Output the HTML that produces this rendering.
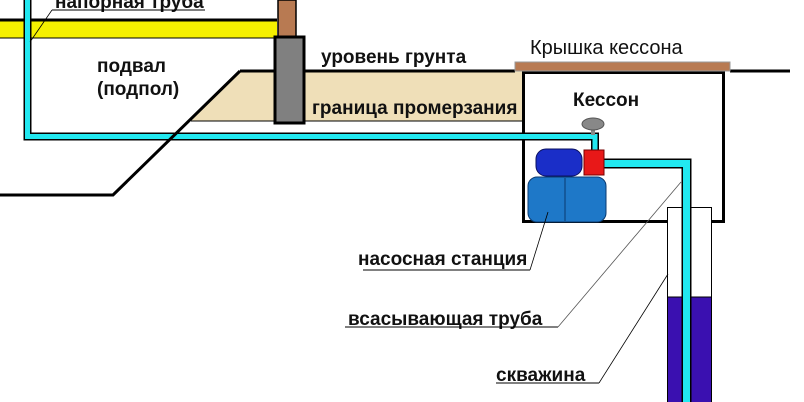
<!DOCTYPE html>
<html><head><meta charset="utf-8"><style>
html,body{margin:0;padding:0;background:#fff;}
svg{display:block;}
text{font-family:"Liberation Sans",Arial,sans-serif;font-weight:bold;font-size:19px;fill:#111;}
</style></head><body>
<svg width="804" height="402" viewBox="0 0 804 402" xmlns="http://www.w3.org/2000/svg">
<rect x="0" y="20" width="277" height="18" fill="#f5f000"/>
<line x1="0" y1="20" x2="277" y2="20" stroke="#000" stroke-width="3"/>
<line x1="0" y1="38" x2="277" y2="38" stroke="#000" stroke-width="1"/>
<rect x="278" y="0" width="18" height="37" fill="#b87a52" stroke="#000" stroke-width="1.5"/>
<polygon points="240,71 522,71 522,121 191,121" fill="#efdfb8"/>
<line x1="191" y1="121" x2="522" y2="121" stroke="#000" stroke-width="1"/>
<line x1="240" y1="71" x2="515" y2="71" stroke="#000" stroke-width="3"/>
<line x1="730" y1="71" x2="790" y2="71" stroke="#000" stroke-width="3"/>
<rect x="275" y="37" width="29" height="86" fill="#808080" stroke="#000" stroke-width="3"/>
<path d="M27.5,0 V136.5 H595 V150" fill="none" stroke="#000" stroke-width="8"/>
<path d="M27.5,0 V136.5 H595 V150" fill="none" stroke="#22e8f0" stroke-width="5"/>
<polyline points="240,71 113,195 0,195" fill="none" stroke="#000" stroke-width="3"/>
<rect x="523.5" y="72.5" width="200" height="149" fill="none" stroke="#000" stroke-width="3"/>
<rect x="515" y="62" width="215" height="9" fill="#b87a52" stroke="#999" stroke-width="1"/>
<path d="M522,136.5 H595 V150" fill="none" stroke="#000" stroke-width="8"/>
<path d="M522,136.5 H595 V152" fill="none" stroke="#22e8f0" stroke-width="5"/>
<rect x="591" y="127" width="4" height="8" fill="#888"/>
<ellipse cx="593" cy="124" rx="11" ry="6" fill="#888" stroke="#555"/>
<rect x="667.5" y="207.5" width="44" height="200" fill="#fff" stroke="#000" stroke-width="1"/>
<rect x="668" y="297" width="43" height="110" fill="#3a10b0"/>
<line x1="668" y1="297" x2="711" y2="297" stroke="#000" stroke-width="1"/>
<path d="M604,163.5 H686.5 V402" fill="none" stroke="#000" stroke-width="10"/>
<path d="M604,163.5 H686.5 V402" fill="none" stroke="#22e8f0" stroke-width="7"/>
<rect x="528" y="177" width="78" height="45" rx="9" fill="#1e78c8" stroke="#0a3a70" stroke-width="1"/>
<line x1="565" y1="178" x2="565" y2="221" stroke="#0a3a70" stroke-width="1"/>
<rect x="536" y="149" width="46" height="27" rx="10" fill="#1a2ec8" stroke="#0a1060" stroke-width="1"/>
<rect x="584" y="150" width="20" height="25" fill="#e81818" stroke="#700" stroke-width="1"/>
<text x="55" y="8">напорная труба</text>
<line x1="52" y1="10" x2="205" y2="10" stroke="#000" stroke-width="1"/>
<line x1="52" y1="10" x2="30" y2="42" stroke="#000" stroke-width="0.8"/>
<text x="97" y="72">подвал</text>
<text x="97" y="95">(подпол)</text>
<text x="321" y="63">уровень грунта</text>
<text x="312" y="114">граница промерзания</text>
<text x="530" y="54" style="font-weight:normal;font-size:20px">Крышка кессона</text>
<text x="573" y="106">Кессон</text>
<text x="358" y="265">насосная станция</text>
<line x1="363" y1="270" x2="530" y2="270" stroke="#000" stroke-width="1"/>
<line x1="530" y1="270" x2="548" y2="212" stroke="#000" stroke-width="0.8"/>
<text x="348" y="325">всасывающая труба</text>
<line x1="345" y1="327" x2="558" y2="327" stroke="#000" stroke-width="1"/>
<line x1="558" y1="327" x2="681" y2="182" stroke="#555" stroke-width="0.8"/>
<text x="496" y="381">скважина</text>
<line x1="496" y1="383" x2="599" y2="383" stroke="#000" stroke-width="1"/>
<line x1="599" y1="383" x2="668" y2="274" stroke="#000" stroke-width="0.8"/>
</svg>
</body></html>
